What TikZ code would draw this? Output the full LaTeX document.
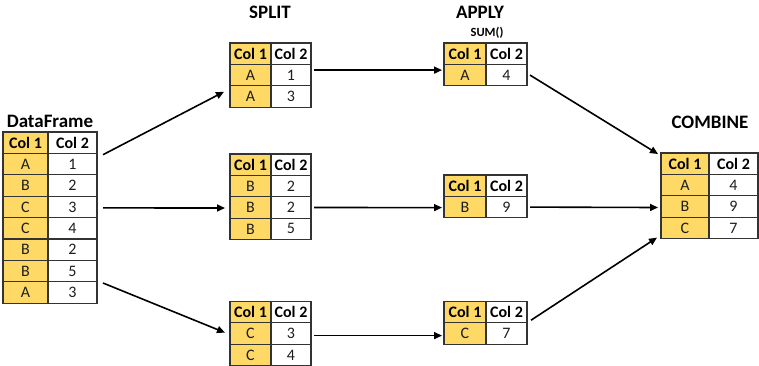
\documentclass[tikz,border=0pt]{standalone}
\usepackage{fontspec}
\setmainfont{Carlito}
\usetikzlibrary{calc,arrows.meta}
\definecolor{gold}{HTML}{FFD966}
\definecolor{gridc}{HTML}{333333}
\definecolor{txt}{HTML}{1E1E1E}

\tikzset{
  cellbase/.style={draw=gridc, line width=1.1pt, anchor=north west, outer sep=0pt,
    minimum height=21.4pt, inner sep=0pt, font=\fontsize{16}{18}\selectfont, text=txt},
  keycell/.style={cellbase, fill=gold},
  valcell/.style={cellbase, fill=white},
  headcell/.style={font=\fontsize{16}{18}\selectfont\bfseries, text=black},
  title/.style={font=\fontsize{19}{22}\selectfont\bfseries, text=black},
  flow/.style={line width=1.6pt, -{Triangle[length=8pt,width=7pt]}},
}

% #1 name, #2 left, #3 top, #4 key column width, #5 value column width, #6 rows key/value
\newcommand\datatable[6]{%
  \node[keycell, headcell, minimum width=#4pt] (#1-h1) at (#2,#3) {Col 1};
  \node[valcell, headcell, minimum width=#5pt] (#1-h2) at (#1-h1.north east) {Col 2};
  \foreach \k/\v [count=\i] in {#6} {
    \node[keycell, minimum width=#4pt] (#1-\i a) at ($(#2,#3)+(0,\i*21.4)$) {\k};
    \node[valcell, minimum width=#5pt] (#1-\i b) at (#1-\i a.north east) {\v};
  }
}

\begin{document}
\begin{tikzpicture}[x=1pt,y=-1pt]
  \useasboundingbox (0,0) rectangle (759,365);

  % titles
  \node[title] (t-df) at (50,121) {DataFrame};
  \node[title] (t-split) at (270,12) {SPLIT};
  \node[title] (t-apply) at (480,12) {APPLY};
  \node[font=\fontsize{12.5}{14}\selectfont\bfseries] (t-sum) at (487,33) {SUM()};
  \node[title] (t-comb) at (710,122) {COMBINE};

  % tables
  \datatable{df}{3}{132}{45}{49}{A/1,B/2,C/3,C/4,B/2,B/5,A/3}
  \datatable{s1}{230}{43}{41}{40}{A/1,A/3}
  \datatable{s2}{230}{154}{41}{40}{B/2,B/2,B/5}
  \datatable{s3}{230}{301.5}{41}{40}{C/3,C/4}
  \datatable{a1}{444}{43}{42}{41}{A/4}
  \datatable{a2}{444}{175}{42}{41}{B/9}
  \datatable{a3}{444}{301.5}{42}{41}{C/7}
  \datatable{cb}{661}{153}{48}{49}{A/4,B/9,C/7}

  % split
  \draw[flow] ($(df-h2.east)+(6,12)$) -- ($(s1-2a.west)+(-6,-4.7)$);
  \draw[flow] ($(df-3b.east)+(6,1)$) -- ($(s2-2a.west)+(-5,0.5)$);
  \draw[flow] ($(df-7b.east)+(6,-9.5)$) -- ($(s3-1a.west)+(-5,-1)$);

  % apply
  \draw[flow] ($(s1-1b.east)+(3,-5)$) -- ($(a1-1a.west)+(-2,-5)$);
  \draw[flow] ($(s2-2b.east)+(3,0)$) -- ($(a2-1a.west)+(-2,0.5)$);
  \draw[flow] ($(s3-1b.east)+(3,2)$) -- ($(a3-1a.west)+(-2,2)$);

  % combine
  \draw[flow] ($(a1-1b.east)+(3,0)$) -- ($(cb-h1.north west)+(-3,1)$);
  \draw[flow] ($(a2-1b.east)+(3,0)$) -- ($(cb-2a.west)+(-3,1)$);
  \draw[flow] ($(a3-h2.east)+(4,8)$) -- ($(cb-3a.south west)+(-4,-1)$);
\end{tikzpicture}
\end{document}
